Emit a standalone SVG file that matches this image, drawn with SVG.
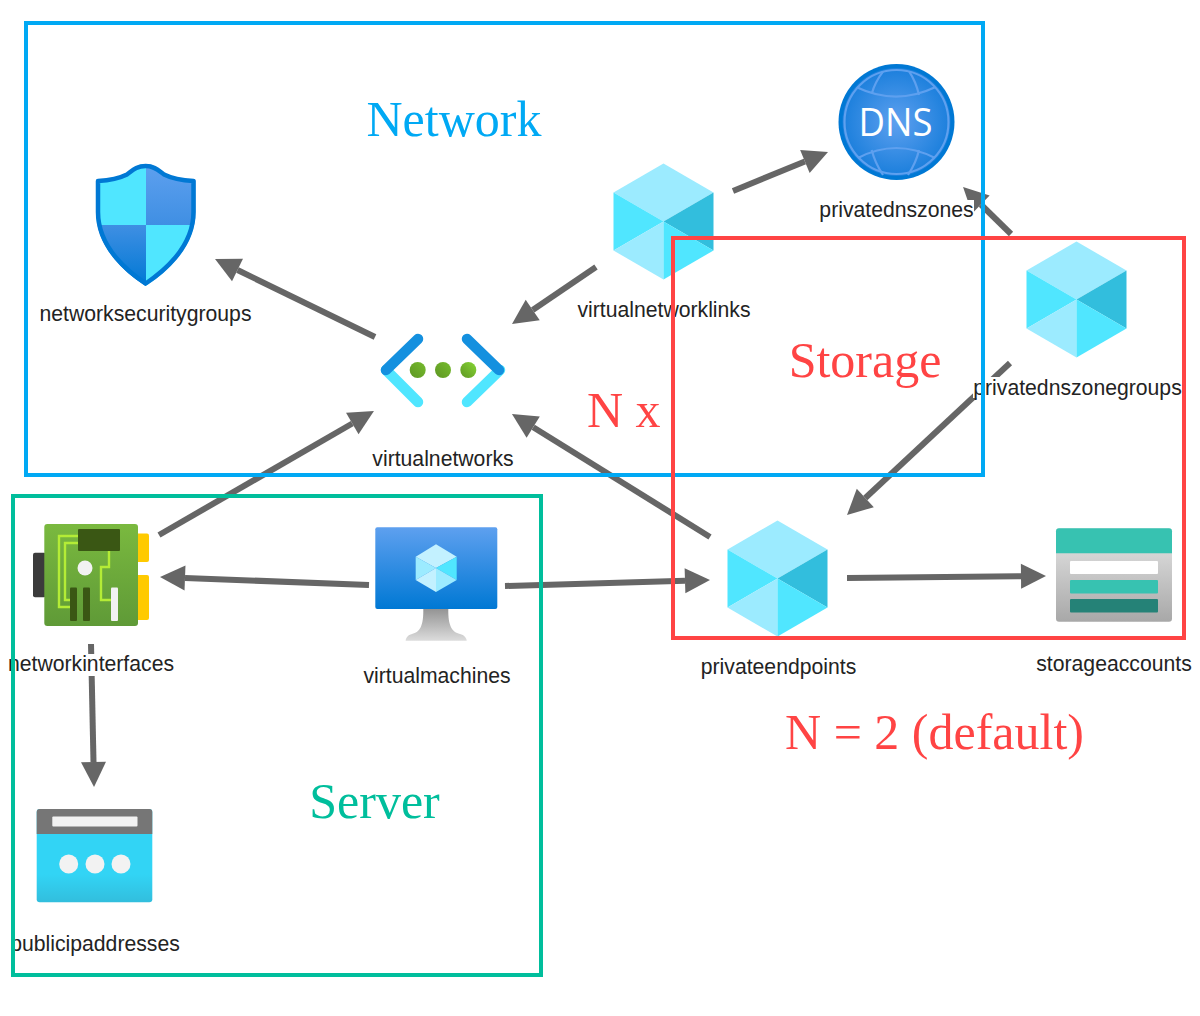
<svg xmlns="http://www.w3.org/2000/svg" width="1200" height="1016" viewBox="0 0 1200 1016">
<style>
.lbl{font-family:"Liberation Sans",Arial,sans-serif;font-size:21.2px;fill:#232323;text-anchor:middle}
.bg{fill:#fff}
.title{font-family:"Liberation Serif","Times New Roman",serif;font-size:50px}
.edge{fill:none;stroke:#666;stroke-width:6;marker-end:url(#arrow)}
.zone{fill:none;stroke-width:4}
.globe{fill:none;stroke:#5ea0ef;stroke-width:2.2}
</style>
<defs>
<marker id="arrow" markerUnits="userSpaceOnUse" markerWidth="28" markerHeight="28" refX="0" refY="14" orient="auto" overflow="visible"><path d="M0,1.5 L25,14 L0,26.5 z" fill="#666"/></marker>
<linearGradient id="gBlue" x1="0" y1="0" x2="0" y2="1"><stop offset="0" stop-color="#5ea0ef"/><stop offset="1" stop-color="#0078d4"/></linearGradient>
<linearGradient id="gShieldT" x1="0" y1="0" x2="0" y2="1"><stop offset="0" stop-color="#5ea0ef"/><stop offset="1" stop-color="#3f8fe3"/></linearGradient>
<linearGradient id="gShieldB" x1="0" y1="0" x2="0" y2="1"><stop offset="0" stop-color="#3f8fe3"/><stop offset="1" stop-color="#0078d4"/></linearGradient>
<linearGradient id="gStand" x1="0" y1="0" x2="0" y2="1"><stop offset="0" stop-color="#949494"/><stop offset="1" stop-color="#dcdcdc"/></linearGradient>
<linearGradient id="gNic" x1="0" y1="0" x2="0" y2="1"><stop offset="0" stop-color="#7ab93f"/><stop offset="1" stop-color="#5f9a37"/></linearGradient>
<linearGradient id="gIp" x1="0" y1="0" x2="0" y2="1"><stop offset="0" stop-color="#32d4f5"/><stop offset="0.7" stop-color="#32d4f5"/><stop offset="1" stop-color="#32bedd"/></linearGradient>
<linearGradient id="gSt" x1="0" y1="0" x2="0" y2="1"><stop offset="0" stop-color="#e6e6e6"/><stop offset="1" stop-color="#a8a8a8"/></linearGradient>
<linearGradient id="gDot1" x1="1" y1="0" x2="0" y2="1"><stop offset="0" stop-color="#76bc2d"/><stop offset="1" stop-color="#5e9624"/></linearGradient>
<linearGradient id="gDot2" x1="1" y1="0" x2="0" y2="1"><stop offset="0" stop-color="#86d633"/><stop offset="1" stop-color="#5e9624"/></linearGradient>
<radialGradient id="gDns"><stop offset="0" stop-color="#5ea0ef"/><stop offset="1" stop-color="#1b7fdc"/></radialGradient>
<clipPath id="clipShield"><path d="M145.7,164 C136,164 132,170 127,173 C118,178 107,179.500 96,180 L96,212 C96,250 130,276 145.700,286 C161,276 195.500,250 195.500,212 L195.500,180 C184,179.500 173,178 164,173 C159,170 155,164 145.700,164 z"/></clipPath>
<g id="cube">
<path d="M0,-58 L50,-29 L0,0 L-50,-29 z" fill="#9cebff"/>
<path d="M-50,-29 L0,0 L-50,29 z" fill="#50e6ff"/>
<path d="M50,-29 L0,0 L50,29 z" fill="#32bedd"/>
<path d="M-50,29 L0,0 L0,58 z" fill="#9cebff"/>
<path d="M50,29 L0,0 L0,58 z" fill="#50e6ff"/>
</g>
</defs>

<g id="connectors">
<path class="edge" d="M733,191 L804.900,161.500"/>
<path class="edge" d="M1011,234 L980.900,204.500"/>
<path class="edge" d="M596,267 L532.700,310"/>
<path class="edge" d="M375,337 L237.500,270"/>
<path class="edge" d="M159,535 L352.300,423.500"/>
<path class="edge" d="M710,537 L533.200,427.200"/>
<path class="edge" d="M369,585 L185,578"/>
<path class="edge" d="M505,586 L685,580.700"/>
<path class="edge" d="M1010,363 L865.300,498"/>
<path class="edge" d="M847,578 L1021,576.300"/>
<path class="edge" d="M91,644 L93.500,762"/>
</g>

<g id="networksecuritygroups">
<g clip-path="url(#clipShield)">
<rect x="96" y="164" width="50" height="61" fill="#50e6ff"/>
<rect x="146" y="164" width="50" height="61" fill="url(#gShieldT)"/>
<rect x="96" y="225" width="50" height="61" fill="url(#gShieldB)"/>
<rect x="146" y="225" width="50" height="61" fill="#50e6ff"/>
</g>
<path d="M145.7,166 C136,166 132,171 127,174.500 C118,179 107,180.500 98,181 L98,212 C98,249 131,274 145.700,283.500 C160,274 193.500,249 193.500,212 L193.500,181 C184,180.500 173,179 164,174.500 C159,171 155,166 145.700,166 z" fill="none" stroke="#0078d4" stroke-width="4.500" stroke-linejoin="round"/>
<rect class="bg" x="39" y="304" width="214" height="22"/>
<text class="lbl" x="145.500" y="321">networksecuritygroups</text>
</g>

<g id="virtualnetworklinks">
<use href="#cube" x="663.500" y="221.500"/>
<rect class="bg" x="577" y="300" width="175" height="22"/>
<text class="lbl" x="664" y="317">virtualnetworklinks</text>
</g>

<g id="privatednszones">
<circle cx="896.500" cy="122" r="58" fill="#0078d4"/>
<circle cx="896.500" cy="122" r="54" fill="url(#gDns)"/>
<circle class="globe" cx="896.500" cy="122" r="52"/>
<path class="globe" d="M856.700,87.300 Q896,106 935,87.300 M858,158 Q896,138 935,158 M883,71.700 Q875,82 871.700,94 M909.300,71.700 Q916,82 919,95 M871.700,150 Q875,163 883,175 M919,150 Q916,163 908,175"/>
<text x="895.500" y="136" text-anchor="middle" font-family="'Open Sans',sans-serif" font-size="39" fill="#fff" textLength="74" lengthAdjust="spacingAndGlyphs">DNS</text>
<rect class="bg" x="819" y="200" width="155" height="22"/>
<text class="lbl" x="896.500" y="217">privatednszones</text>
</g>

<g id="privatednszonegroups">
<use href="#cube" x="1076.500" y="299.500"/>
<rect class="bg" x="973" y="377" width="209" height="21"/>
<text class="lbl" x="1077.500" y="395">privatednszonegroups</text>
</g>

<g id="virtualnetworks">
<path d="M386,370 L418,402 M500,370 L467,402" fill="none" stroke="#50e6ff" stroke-width="10.500" stroke-linecap="round"/>
<path d="M386,370 L418,339 M499,370 L467,339" fill="none" stroke="#1490df" stroke-width="10.500" stroke-linecap="round"/>
<circle cx="417.700" cy="370" r="8" fill="url(#gDot1)"/>
<circle cx="443" cy="370" r="8" fill="url(#gDot1)"/>
<circle cx="468.300" cy="370" r="8" fill="url(#gDot2)"/>
<rect class="bg" x="372" y="449" width="142" height="22"/>
<text class="lbl" x="443" y="466">virtualnetworks</text>
</g>

<g id="networkinterfaces">
<rect x="33" y="552.700" width="13" height="44.500" rx="2" fill="#3b3b3b"/>
<rect x="136" y="533.500" width="13" height="28.500" rx="2" fill="#ffca00"/>
<rect x="136" y="575" width="13" height="45" rx="2" fill="#ffca00"/>
<rect x="44.300" y="524" width="93.700" height="102" rx="3" fill="url(#gNic)"/>
<path d="M78,536 H59 V607 H70 M78,543 H65 V600 H70 M109,551 V567 H101 V600 H111" fill="none" stroke="#b4ec36" stroke-width="2.400"/>
<rect x="78" y="529" width="42" height="22" rx="1" fill="#3a5714"/>
<circle cx="85" cy="568" r="7.500" fill="#f2f2f2"/>
<rect x="70" y="587.500" width="7" height="33.500" rx="1" fill="#3a5714"/>
<rect x="83" y="587.500" width="7" height="33.500" rx="1" fill="#3a5714"/>
<rect x="111" y="587.500" width="7" height="33.500" rx="1" fill="#f2f2f2"/>
<rect class="bg" x="8" y="654" width="167" height="22"/>
<text class="lbl" x="91" y="671">networkinterfaces</text>
</g>

<g id="virtualmachines">
<path d="M423.300,609 H448.300 C448,626 452,632 460,634 C464,635 466.700,638 466.700,640.700 H405.700 C405.700,638 408,635 412,634 C420,632 423.600,626 423.300,609 z" fill="url(#gStand)"/>
<rect x="375.300" y="527.300" width="122" height="81.700" rx="2" fill="url(#gBlue)"/>
<path d="M436,544.300 L456.700,556.700 L436,568 L415.700,556.700 z" fill="#c3f1ff"/>
<path d="M415.700,556.700 L436,568 L415.700,580 z" fill="#9cebff"/>
<path d="M456.700,556.700 L436,568 L456.700,580 z" fill="#50e6ff"/>
<path d="M415.700,580 L436,568 L436,592 z" fill="#c3f1ff"/>
<path d="M456.700,580 L436,568 L436,592 z" fill="#9cebff"/>
<rect class="bg" x="363" y="666" width="148" height="22"/>
<text class="lbl" x="437" y="683">virtualmachines</text>
</g>

<g id="privateendpoints">
<use href="#cube" x="777.500" y="578.500"/>
<rect class="bg" x="700" y="657" width="157" height="22"/>
<text class="lbl" x="778.500" y="674">privateendpoints</text>
</g>

<g id="storageaccounts">
<rect x="1056" y="528.300" width="116" height="93.400" rx="3" fill="url(#gSt)"/>
<path d="M1056,553.300 V531.300 a3,3 0 0 1 3,-3 H1169 a3,3 0 0 1 3,3 V553.300 z" fill="#37c2b1"/>
<rect x="1070" y="561" width="88" height="13" rx="1" fill="#fff"/>
<rect x="1070" y="580" width="88" height="13.500" rx="1" fill="#37c2b1"/>
<rect x="1070" y="599" width="88" height="13.500" rx="1" fill="#258277"/>
<rect class="bg" x="1036" y="654" width="156" height="22"/>
<text class="lbl" x="1114" y="671">storageaccounts</text>
</g>

<g id="publicipaddresses">
<rect x="36.700" y="809" width="115.600" height="93.300" rx="3" fill="url(#gIp)"/>
<path d="M36.700,834 V812 a3,3 0 0 1 3,-3 H149.300 a3,3 0 0 1 3,3 V834 z" fill="#767676"/>
<rect x="52.300" y="816.500" width="85.200" height="10" rx="1" fill="#f2f2f2"/>
<circle cx="68.700" cy="864" r="9.500" fill="#f2f2f2"/>
<circle cx="95" cy="864" r="9.500" fill="#f2f2f2"/>
<circle cx="121" cy="864" r="9.500" fill="#f2f2f2"/>
<rect class="bg" x="10" y="934" width="170" height="22"/>
<text class="lbl" x="95" y="951">publicipaddresses</text>
</g>

<g id="zones">
<rect class="zone" x="26" y="23" width="957" height="452" stroke="#00a9f4"/>
<rect class="zone" x="13" y="496" width="528" height="479" stroke="#00be9c"/>
<rect class="zone" x="673" y="238" width="511" height="400" stroke="#ff4444"/>
<text class="title" x="454" y="136" text-anchor="middle" fill="#00a9f4">Network</text>
<text class="title" x="865" y="377" text-anchor="middle" fill="#ff4444">Storage</text>
<text class="title" x="587" y="427" fill="#ff4444">N x</text>
<text class="title" x="934.500" y="749" text-anchor="middle" fill="#ff4444">N = 2 (default)</text>
<text class="title" x="374.500" y="818" text-anchor="middle" fill="#00be9c">Server</text>
</g>
</svg>
